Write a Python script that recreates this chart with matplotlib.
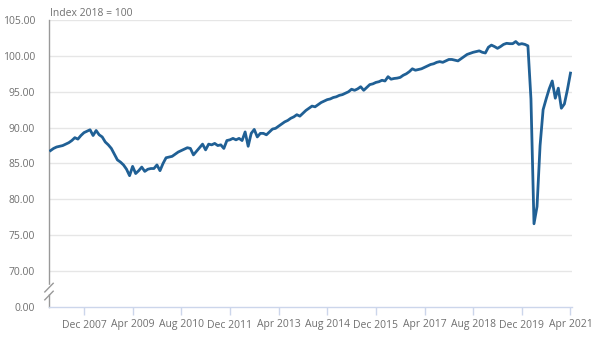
import numpy as np
import pandas as pd
import matplotlib
matplotlib.use("Agg")
import matplotlib.pyplot as plt

plt.rcParams["font.family"] = ["Open Sans", "DejaVu Sans"]

# monthly index, Jan 2007 - Apr 2021
months = pd.date_range("2007-01-01", "2021-04-01", freq="MS")
index_values = [
    # 2007
    86.8, 87.1, 87.3, 87.4, 87.5, 87.7, 87.9, 88.2, 88.6, 88.4, 88.9, 89.3,
    # 2008
    89.5, 89.7, 88.9, 89.6, 89.0, 88.7, 88.0, 87.6, 87.1, 86.3, 85.5, 85.2,
    # 2009
    84.8, 84.2, 83.3, 84.6, 83.6, 84.0, 84.5, 83.9, 84.2, 84.3, 84.3, 84.8,
    # 2010
    84.0, 85.0, 85.8, 85.9, 86.0, 86.3, 86.6, 86.8, 87.0, 87.2, 87.1, 86.2,
    # 2011
    86.7, 87.2, 87.7, 86.9, 87.7, 87.6, 87.8, 87.5, 87.6, 87.1, 88.2, 88.3,
    # 2012
    88.5, 88.3, 88.5, 88.2, 89.4, 87.4, 89.2, 89.75, 88.7, 89.2, 89.2, 89.0,
    # 2013
    89.4, 89.8, 89.9, 90.2, 90.5, 90.8, 91.0, 91.3, 91.5, 91.8, 91.6, 92.0,
    # 2014
    92.4, 92.7, 93.0, 92.9, 93.2, 93.5, 93.7, 93.9, 94.0, 94.2, 94.3, 94.5,
    # 2015
    94.6, 94.8, 95.0, 95.35, 95.2, 95.4, 95.7, 95.2, 95.6, 96.0, 96.1, 96.3,
    # 2016
    96.4, 96.6, 96.5, 97.1, 96.75, 96.85, 96.9, 97.0, 97.3, 97.5, 97.8, 98.2,
    # 2017
    98.0, 98.1, 98.2, 98.4, 98.6, 98.8, 98.9, 99.1, 99.2, 99.1, 99.3, 99.5,
    # 2018
    99.5, 99.4, 99.3, 99.6, 99.9, 100.2, 100.35, 100.5, 100.6, 100.7, 100.5, 100.4,
    # 2019
    101.2, 101.5, 101.3, 101.05, 101.3, 101.6, 101.75, 101.7, 101.7, 102.0, 101.6, 101.7,
    # 2020
    101.6, 101.4, 94.0, 76.6, 79.0, 87.5, 92.5, 94.0, 95.4, 96.5, 94.1, 95.5,
    # 2021
    92.7, 93.3, 95.3, 97.6,
]
tick_labels = ["Dec 2007", "Apr 2009", "Aug 2010", "Dec 2011", "Apr 2013", "Aug 2014",
               "Dec 2015", "Apr 2017", "Aug 2018", "Dec 2019", "Apr 2021"]
y_ticks = [70, 75, 80, 85, 90, 95, 100, 105]

grey = "#707070"
x = np.arange(len(months))
month_names = list(months.strftime("%b %Y"))
tick_pos = [month_names.index(t) for t in tick_labels]

fig = plt.figure(figsize=(6.02, 3.38), dpi=100)
ax = fig.add_axes([49 / 602, 31 / 338, 523 / 602, 287 / 338])

# the y axis is broken: 0 is drawn one step below 70
axis_zero = 65
ax.set_ylim(axis_zero, 105)
ax.set_xlim(-0.5, len(months) - 0.5)
ax.set_yticks([axis_zero] + y_ticks)
ax.set_yticklabels(["0.00"] + [f"{v:.2f}" for v in y_ticks])
for v in y_ticks:
    ax.axhline(v, color="#e6e6e6", lw=1, zorder=0)

ax.plot(x, index_values, color="#206095", lw=2.0, solid_joinstyle="round", zorder=3)

ax.set_xticks(tick_pos)
ax.set_xticklabels(tick_labels)

for s in ["top", "right"]:
    ax.spines[s].set_visible(False)
ax.spines["left"].set_color("#999999")
ax.spines["left"].set_linewidth(1)
ax.spines["bottom"].set_color("#ccd6eb")
ax.spines["bottom"].set_linewidth(1)
ax.tick_params(axis="y", length=0, pad=10, labelsize=7.5, labelcolor=grey)
ax.tick_params(axis="x", length=6, width=1, color="#ccd6eb", pad=3,
               labelsize=7.5, labelcolor=grey)

# break marks on the y axis
tr = ax.get_yaxis_transform()
ax.fill_between([-0.004, 0.004], 66.9, 68.0, color="white", transform=tr,
                zorder=5, clip_on=False)
for yb in (66.6, 67.7):
    ax.plot([-0.008, 0.008], [yb - 0.6, yb + 0.6], color="#999999", lw=1,
            transform=tr, clip_on=False, zorder=6)

fig.text(50 / 602, 1 - 13 / 338, "Index 2018 = 100", fontsize=7.5, color=grey,
         va="center", ha="left")

fig.savefig("out.png", dpi=100)
